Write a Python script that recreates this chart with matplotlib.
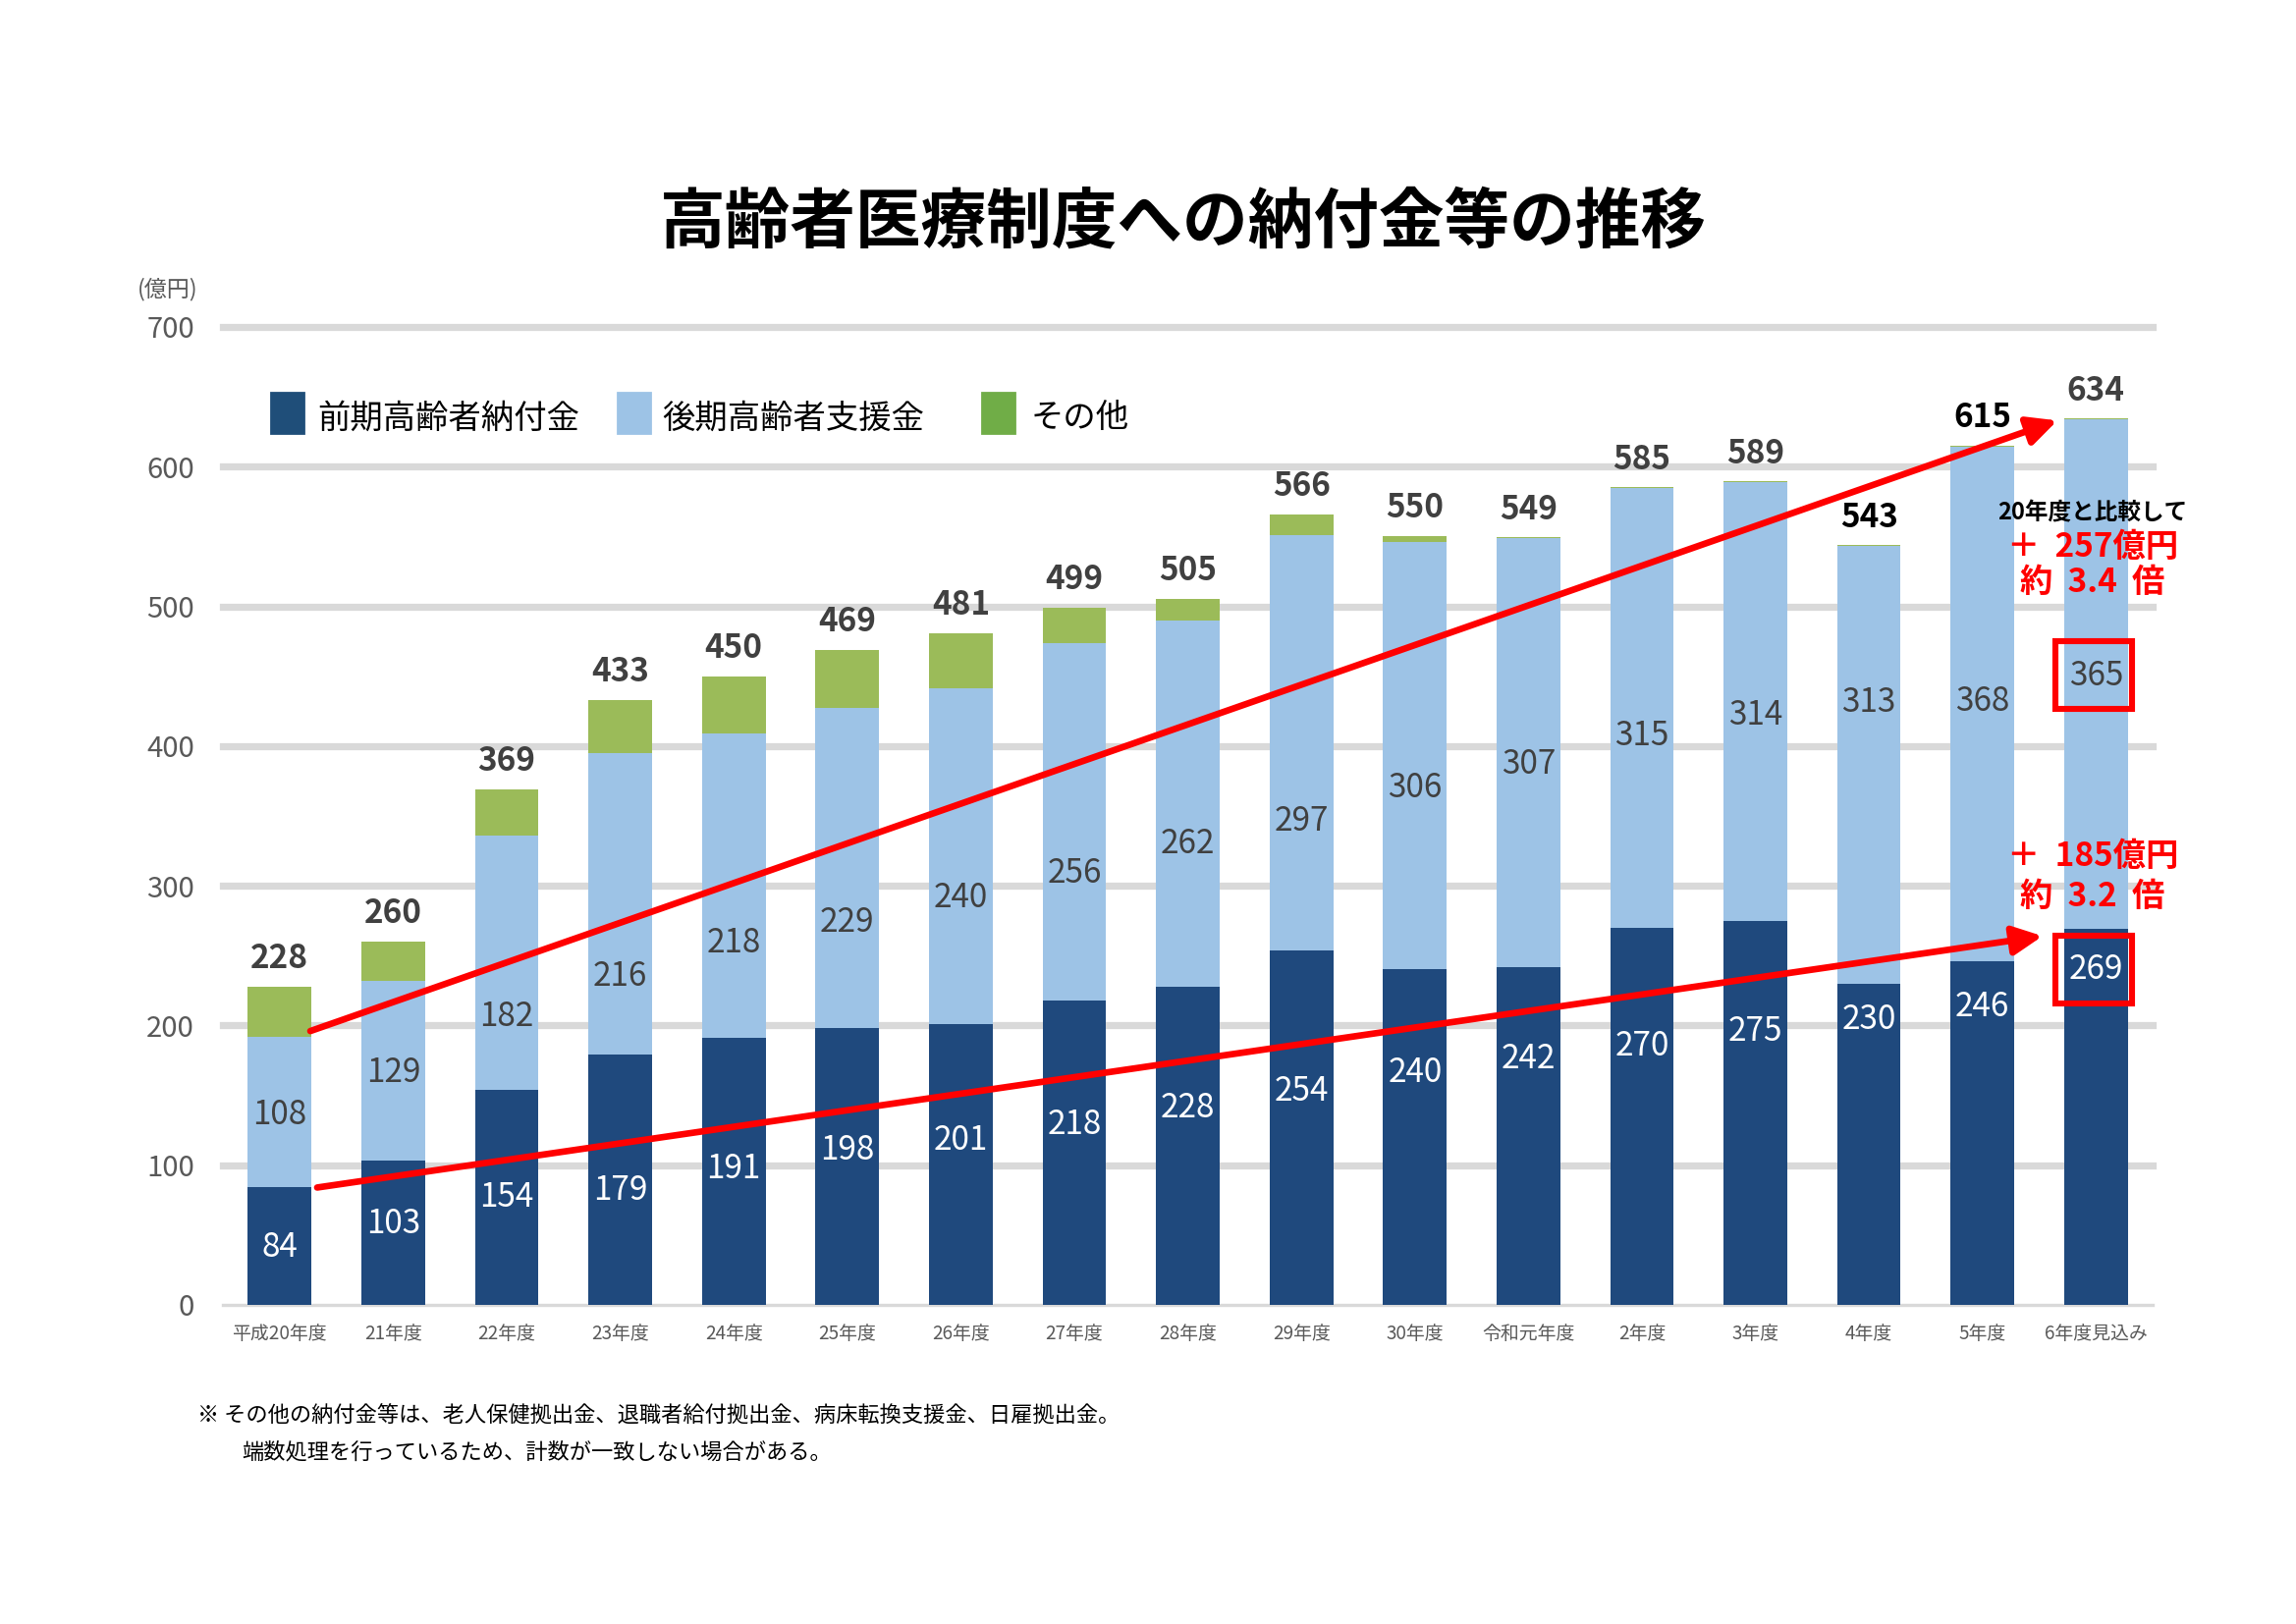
import matplotlib
matplotlib.use('Agg')
import matplotlib.pyplot as plt
from matplotlib.patches import Rectangle
import numpy as np

plt.rcParams['font.family'] = ['Noto Sans CJK JP', 'DejaVu Sans']

# ---------------- data ----------------
categories = ['平成20年度', '21年度', '22年度', '23年度', '24年度', '25年度', '26年度',
              '27年度', '28年度', '29年度', '30年度', '令和元年度', '2年度', '3年度',
              '4年度', '5年度', '6年度見込み']
zenki = [84, 103, 154, 179, 191, 198, 201, 218, 228, 254, 240, 242, 270, 275, 230, 246, 269]
kouki = [108, 129, 182, 216, 218, 229, 240, 256, 262, 297, 306, 307, 315, 314, 313, 368, 365]
sonota = [36, 28, 33, 38, 41, 42, 40, 25, 15, 15, 4, 0.6, 0.6, 0.6, 0.6, 1, 0.6]
totals = [228, 260, 369, 433, 450, 469, 481, 499, 505, 566, 550, 549, 585, 589, 543, 615, 634]
series_names = ['前期高齢者納付金', '後期高齢者支援金', 'その他']

# label placement (data units), as positioned in the original
zenki_label_y = [41, 58, 77, 82, 97, 111, 118, 129, 141, 153, 166, 176, 185, 196, 204, 213, 240]
kouki_label_y = [136, 166, 206, 235, 259, 274, 291, 309, 330, 346, 370, 387, 407, 422, 431, 432, 450]
total_black = {14, 15}

# ---------------- figure ----------------
fig = plt.figure(figsize=(11.69, 8.27), dpi=200)
ax = fig.add_axes([0.0971, 0.1965, 0.8405, 0.6022])

x = np.arange(len(categories))
w = 0.56
c_zenki, c_kouki, c_sonota = '#1F497D', '#9DC3E6', '#9BBB59'
ax.bar(x, zenki, w, color=c_zenki, zorder=3)
ax.bar(x, kouki, w, bottom=zenki, color=c_kouki, zorder=3)
bottom3 = np.array(zenki) + np.array(kouki)
ax.bar(x, sonota, w, bottom=bottom3, color=c_sonota, zorder=3)

for i in range(len(x)):
    ax.text(x[i], zenki_label_y[i], str(zenki[i]), ha='center', va='center',
            color='white', fontsize=12, zorder=7)
    ax.text(x[i], kouki_label_y[i], str(kouki[i]), ha='center', va='center',
            color='#404040', fontsize=12, zorder=7)
    ax.text(x[i], totals[i] + 20, str(totals[i]), ha='center', va='center',
            color='black' if i in total_black else '#404040', fontsize=12,
            fontweight='bold', zorder=7)

ax.set_xlim(-0.5, 16.5)
ax.set_ylim(0, 700)
ax.set_yticks(np.arange(0, 701, 100))
ax.set_xticks(x)
ax.set_xticklabels(categories)
ax.yaxis.grid(True, color='#D9D9D9', linewidth=2.6, zorder=0)
ax.set_axisbelow(True)
gls = ax.get_ygridlines()
for gl in gls:
    gl.set_clip_on(False)
gls[0].set_linewidth(1.2)
for s in ax.spines.values():
    s.set_visible(False)
ax.tick_params(axis='y', length=0, pad=10.5, labelsize=10.5, labelcolor='#595959')
ax.tick_params(axis='x', length=0, pad=7, labelsize=6.8, labelcolor='#595959')

# arrows
ap = dict(arrowstyle='-|>,head_length=0.45,head_width=0.22', mutation_scale=20,
          color='red', lw=2.4, shrinkA=0, shrinkB=0)
ax.annotate('', xy=(15.66, 633), xytext=(0.27, 196), arrowprops=ap, zorder=5)
ax.annotate('', xy=(15.53, 264), xytext=(0.33, 84), arrowprops=ap, zorder=5)

# red boxes
ax.add_patch(Rectangle((15.64, 426.6), 0.68, 48.4, fill=False, edgecolor='red', lw=2.2, zorder=6))
ax.add_patch(Rectangle((15.64, 216), 0.68, 48.4, fill=False, edgecolor='red', lw=2.2, zorder=6))

# comparison texts
ax.text(15.97, 567, '20年度と比較して', ha='center', va='center', fontsize=8.5,
        fontweight='bold', color='black', zorder=8)
ax.text(15.97, 542.5, '＋  257億円', ha='center', va='center', fontsize=12,
        fontweight='bold', color='red', zorder=8)
ax.text(15.97, 517, '約  3.4  倍', ha='center', va='center', fontsize=12,
        fontweight='bold', color='red', zorder=8)
ax.text(15.97, 320.5, '＋  185億円', ha='center', va='center', fontsize=12,
        fontweight='bold', color='red', zorder=8)
ax.text(15.97, 292, '約  3.2  倍', ha='center', va='center', fontsize=12,
        fontweight='bold', color='red', zorder=8)

# title, unit
fig.text(0.5154, 0.8628, '高齢者医療制度への納付金等の推移', ha='center', va='center',
         fontsize=24, fontweight='bold', color='black')
fig.text(171 / 2338, 1 - 295 / 1654, '(億円)', ha='center', va='center',
         fontsize=8.3, color='#595959')

# legend (manual)
W, H = 2338, 1654
leg_colors = ['#1F4E79', '#9DC3E6', '#70AD47']
sq_x = [276, 629, 1000]
tx_x = [323, 674, 1050]
for name, col, sx, tx in zip(series_names, leg_colors, sq_x, tx_x):
    fig.add_artist(Rectangle((sx / W, 1 - 441 / H), 33 / W, 41 / H, color=col,
                             transform=fig.transFigure))
    fig.text(tx / W, 1 - 426 / H, name, ha='left', va='center', fontsize=12, color='black')

# footnote
fig.text(201 / W, 1 - 1442 / H,
         '※ その他の納付金等は、老人保健拠出金、退職者給付拠出金、病床転換支援金、日雇拠出金。',
         ha='left', va='center', fontsize=8.0, color='black')
fig.text(246 / W, 1 - 1479 / H,
         '端数処理を行っているため、計数が一致しない場合がある。',
         ha='left', va='center', fontsize=8.0, color='black')

fig.savefig('out.png', dpi=200)
